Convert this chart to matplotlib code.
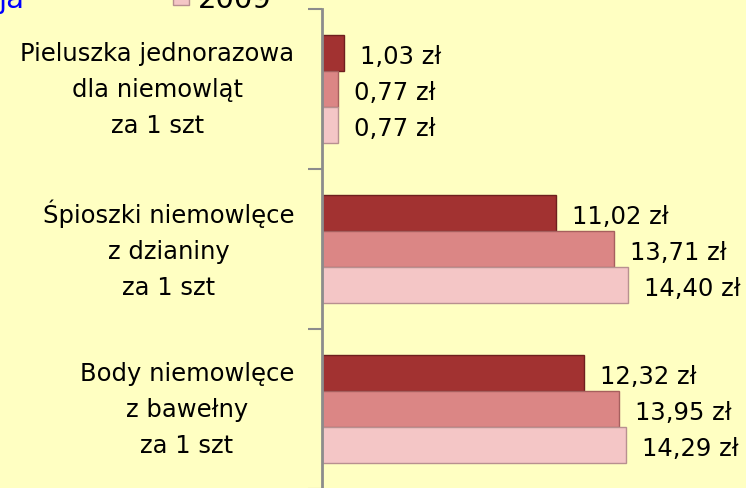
import numpy as np
import matplotlib.pyplot as plt
import matplotlib.transforms as mtransforms
from matplotlib.patches import Rectangle

categories = ["Pieluszka jednorazowa\ndla niemowląt\nza 1 szt",
              "Śpioszki niemowlęce\nz dzianiny\nza 1 szt",
              "Body niemowlęce\nz bawełny\nza 1 szt"]
series_names = ["2007", "2008", "2009"]
values_a = [1.03, 11.02, 12.32]
values_b = [0.77, 13.71, 13.95]
values_c = [0.77, 14.40, 14.29]

colors = ["#A23231", "#DB8685", "#F4C6C6"]
edges = ["#6E1F1E", "#A65F5E", "#B89090"]
bg = "#FFFFC2"

W, H = 746, 489
fig = plt.figure(figsize=(W / 100, H / 100), dpi=100, facecolor=bg)

# axis area in pixels: x=0 at 322px, top at 10px, bottom at 490px
scale = 21.27
ax = fig.add_axes([322 / W, (H - 490) / H, (W - 322) / W, 480 / H])
ax.set_facecolor(bg)

y = np.arange(len(categories))
h = 0.225
for k, vals in enumerate([values_a, values_b, values_c]):
    pos = y + (k - 1) * h
    ax.barh(pos, vals, height=h, color=colors[k], edgecolor=edges[k], linewidth=1)
    for p, v in zip(pos, vals):
        ax.text(v + 16 / scale, p + 0.02, f"{v:.2f}".replace(".", ",") + " zł",
                va="center", ha="left", fontsize=17.5, color="black")

ax.set_xlim(0, (W - 322) / scale)
ax.set_ylim(2.5, -0.5)

ax.set_yticks([-0.5, 0.5, 1.5, 2.5])
ax.set_yticklabels([])
ax.set_yticks(y, minor=True)
labels = ax.set_yticklabels(categories, minor=True, fontsize=17.5, multialignment="center",
                            linespacing=1.62, va="center")
shift = mtransforms.ScaledTranslation(0, -3 / 100, fig.dpi_scale_trans)
for lab in labels:
    lab.set_transform(lab.get_transform() + shift)
ax.tick_params(axis="y", which="major", length=10, width=1.5, color="#8C8C8C")
ax.tick_params(axis="y", which="minor", length=0, pad=20)
ax.set_xticks([])
for s in ["top", "right", "bottom"]:
    ax.spines[s].set_visible(False)
ax.spines["left"].set_color("#8C8C8C")
ax.spines["left"].set_linewidth(2)

# cropped title and legend at top
fig.text(25 / W, 1 - 8 / H, "ja", color="#0000FF", fontsize=21, ha="right", va="baseline")
fig.patches.append(Rectangle((173 / W, 1 - 6 / H), 16 / W, 12 / H, transform=fig.transFigure,
                             facecolor=colors[2], edgecolor=edges[2], linewidth=1))
fig.text(198 / W, 1 - 8 / H, series_names[2], color="black", fontsize=21, ha="left", va="baseline")

fig.savefig("out.png", dpi=100, facecolor=bg)
